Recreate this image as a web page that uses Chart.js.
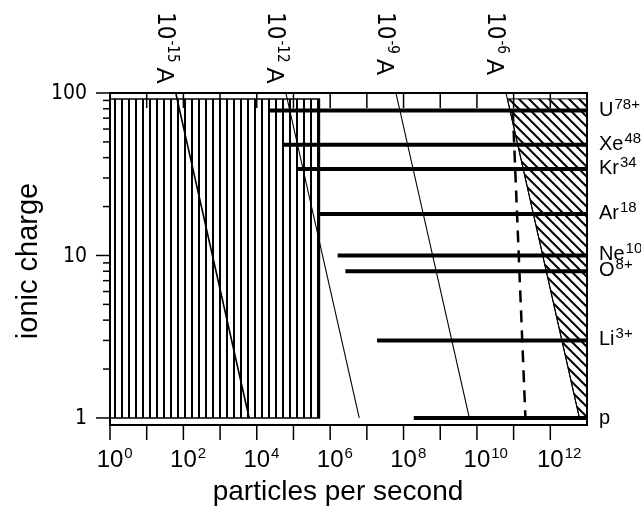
<!DOCTYPE html>
<html>
<head>
<meta charset="utf-8">
<title>ionic charge vs particles per second</title>
<script src="https://cdn.jsdelivr.net/npm/chart.js@4.4.1/dist/chart.umd.min.js"></script>
<style>
  html, body { margin: 0; padding: 0; background: #fff; }
  #chart { display: block; }
</style>
</head>
<body>
<canvas id="chart" width="641" height="508"></canvas>
<script>
// ion beams: name, charge state label, charge, lowest rate of the bar
const ionNames = ['U', 'Xe', 'Kr', 'Ar', 'Ne', 'O', 'Li', 'p'];
const ionSup = ['78+', '48', '34', '18', '10', '8+', '3+', ''];
const ionCharge = [78, 48, 34, 18, 10, 8, 3, 1];
const ionMinRate = [2.1e4, 5.4e4, 1.3e5, 4.8e5, 1.6e6, 2.6e6, 1.9e7, 1.9e8];
const ionMaxRate = 1e13;

// lines of constant current (rate at charge 100 and at charge 1)
const currentExp = ['-15', '-12', '-9', '-6'];
const currentRateQ100 = [62, 6.2e4, 6.2e7, 6.2e10];
const currentRateQ1 = [6.2e3, 6.2e6, 6.2e9, 6.2e12];

// vertically hatched block (left) and diagonal hatched block (right)
const leftHatchRate = [1, 5.1e5];
const hatchCharge = [1, 92];
const rightHatchLeftRate = [6.8e10, 6.2e12]; // at charge 92 and at charge 1

// dashed line
const dashedRate = [9.5e10, 2.1e11];
const dashedCharge = [78, 1];

// tick values
const xDecades = [1, 1e1, 1e2, 1e3, 1e4, 1e5, 1e6, 1e7, 1e8, 1e9, 1e10, 1e11, 1e12];
const xLabelExp = ['0', '2', '4', '6', '8', '10', '12'];
const yTicks = [1, 2, 3, 4, 5, 6, 7, 8, 9, 10, 20, 30, 40, 50, 60, 70, 80, 90, 100];
const yLabels = ['1', '10', '100'];

const SANS = '"Liberation Sans", Arial, sans-serif';
const NARROW = '"Liberation Sans Narrow", "DejaVu Sans Condensed", sans-serif';

function makePattern(w, h, draw) {
  const c = document.createElement('canvas');
  c.width = w; c.height = h;
  const g = c.getContext('2d');
  draw(g);
  return document.getElementById('chart').getContext('2d').createPattern(c, 'repeat');
}

const vertHatch = makePattern(14, 14, g => {
  g.fillStyle = '#000';
  g.fillRect(2, 0, 2, 14);
  g.fillRect(9, 0, 2, 14);
});

const diagHatch = makePattern(10, 10, g => {
  g.strokeStyle = '#000';
  g.lineWidth = 2;
  g.beginPath();
  g.moveTo(-5, -5); g.lineTo(15, 15);
  g.moveTo(-5, 5); g.lineTo(5, 15);
  g.moveTo(5, -5); g.lineTo(15, 5);
  g.stroke();
});

const datasets = [];

// ion bars
ionNames.forEach((name, i) => {
  datasets.push({
    label: name,
    data: [{ x: ionMinRate[i], y: ionCharge[i] }, { x: ionMaxRate, y: ionCharge[i] }],
    borderColor: '#000',
    borderWidth: 4,
    borderCapStyle: 'butt',
    fill: false,
    order: 1
  });
});

// dashed line
datasets.push({
  label: 'dashed',
  data: [{ x: dashedRate[0], y: dashedCharge[0] }, { x: dashedRate[1], y: dashedCharge[1] }],
  borderColor: '#000',
  borderWidth: 2.5,
  borderDash: [12, 8],
  fill: false,
  order: 1
});

// constant current lines
currentExp.forEach((e, i) => {
  datasets.push({
    label: '1e' + e + ' A',
    data: [{ x: currentRateQ100[i], y: 100 }, { x: currentRateQ1[i], y: 1 }],
    borderColor: '#000',
    borderWidth: i === 0 ? 1.6 : 1.1,
    fill: false,
    order: 2
  });
});

// hatched regions
datasets.push({
  label: 'left hatch',
  data: [
    { x: leftHatchRate[0], y: hatchCharge[0] },
    { x: leftHatchRate[0], y: hatchCharge[1] },
    { x: leftHatchRate[1], y: hatchCharge[1] },
    { x: leftHatchRate[1], y: hatchCharge[0] },
    { x: leftHatchRate[0], y: hatchCharge[0] }
  ],
  borderColor: '#000',
  borderWidth: 1.5,
  backgroundColor: vertHatch,
  fill: 'shape',
  order: 3
});
datasets.push({
  label: 'right hatch',
  data: [
    { x: rightHatchLeftRate[0], y: hatchCharge[1] },
    { x: ionMaxRate, y: hatchCharge[1] },
    { x: ionMaxRate, y: hatchCharge[0] },
    { x: rightHatchLeftRate[1], y: hatchCharge[0] },
    { x: rightHatchLeftRate[0], y: hatchCharge[1] }
  ],
  borderColor: '#000',
  borderWidth: 1,
  backgroundColor: diagHatch,
  fill: 'shape',
  order: 3
});

function seg(ctx, x1, y1, x2, y2) {
  ctx.beginPath();
  ctx.moveTo(x1, y1);
  ctx.lineTo(x2, y2);
  ctx.stroke();
}

// frame, ticks and all the text
const axisPlugin = {
  id: 'axisPlugin',
  afterDraw(chart) {
    const { ctx, chartArea: a, scales: { x, y } } = chart;
    ctx.save();
    ctx.strokeStyle = '#000';
    ctx.fillStyle = '#000';
    ctx.lineWidth = 2;
    ctx.strokeRect(a.left, a.top, a.right - a.left, a.bottom - a.top);

    // x ticks: bottom outward, top inward
    ctx.lineWidth = 1.5;
    xDecades.forEach((v, i) => {
      const px = x.getPixelForValue(v);
      seg(ctx, px, a.bottom, px, a.bottom + 15);
      if (i > 0) seg(ctx, px, a.top, px, a.top + 15);
    });

    // y ticks outward
    yTicks.forEach(v => {
      const py = y.getPixelForValue(v);
      const major = yLabels.includes(String(v));
      seg(ctx, a.left - (major ? 14 : 7), py, a.left, py);
    });

    // y labels
    ctx.font = '21px ' + NARROW;
    ctx.textAlign = 'right';
    ctx.textBaseline = 'middle';
    yLabels.forEach(l => {
      ctx.fillText(l, a.left - 23, y.getPixelForValue(Number(l)) + 1);
    });

    // x labels 10^n
    ctx.textBaseline = 'alphabetic';
    xLabelExp.forEach(e => {
      const px = x.getPixelForValue(Math.pow(10, Number(e)));
      ctx.font = '24px ' + SANS;
      ctx.textAlign = 'center';
      ctx.fillText('10', px, 467);
      const w = ctx.measureText('10').width;
      ctx.font = '15px ' + SANS;
      ctx.textAlign = 'left';
      ctx.fillText(e, px + w / 2 + 1, 458);
    });

    // ion labels at right
    ionNames.forEach((n, i) => {
      const py = y.getPixelForValue(ionCharge[i]) + (n === 'p' ? 6 : 5);
      ctx.font = '20px ' + SANS;
      ctx.textAlign = 'left';
      ctx.fillText(n, 599, py);
      const w = ctx.measureText(n).width;
      ctx.font = '15px ' + SANS;
      ctx.fillText(ionSup[i], 599 + w + 1, py - 7);
    });

    // current labels on top, rotated
    currentExp.forEach((e, i) => {
      const lx = x.getPixelForValue(currentRateQ100[i]) - 12;
      ctx.save();
      ctx.translate(lx, 12);
      ctx.rotate(Math.PI / 2);
      ctx.textAlign = 'left';
      ctx.textBaseline = 'middle';
      ctx.font = '24px ' + NARROW;
      ctx.fillText('10', 0, 0);
      let w = ctx.measureText('10').width;
      ctx.font = '15px ' + NARROW;
      ctx.fillText(e, w + 1, -8);
      w += ctx.measureText(e).width + 6;
      ctx.font = '24px ' + SANS;
      ctx.fillText('A', w, 0);
      ctx.restore();
    });

    // axis titles
    ctx.font = '28px ' + SANS;
    ctx.textAlign = 'center';
    ctx.textBaseline = 'alphabetic';
    ctx.fillText('particles per second', 338, 500);
    ctx.save();
    ctx.translate(37, 261);
    ctx.rotate(-Math.PI / 2);
    ctx.font = '29px ' + SANS;
    ctx.fillText('ionic charge', 0, 0);
    ctx.restore();

    ctx.restore();
  }
};

new Chart(document.getElementById('chart'), {
  type: 'line',
  data: { datasets: datasets },
  options: {
    responsive: false,
    animation: false,
    parsing: true,
    layout: { padding: { left: 110, right: 54, top: 93, bottom: 83 } },
    elements: { point: { radius: 0, hoverRadius: 0 }, line: { tension: 0 } },
    plugins: {
      legend: { display: false },
      tooltip: { enabled: false }
    },
    scales: {
      x: { type: 'logarithmic', min: 1, max: 1e13, display: false },
      y: { type: 'logarithmic', min: 0.905, max: 100, display: false }
    }
  },
  plugins: [axisPlugin]
});
</script>
</body>
</html>
